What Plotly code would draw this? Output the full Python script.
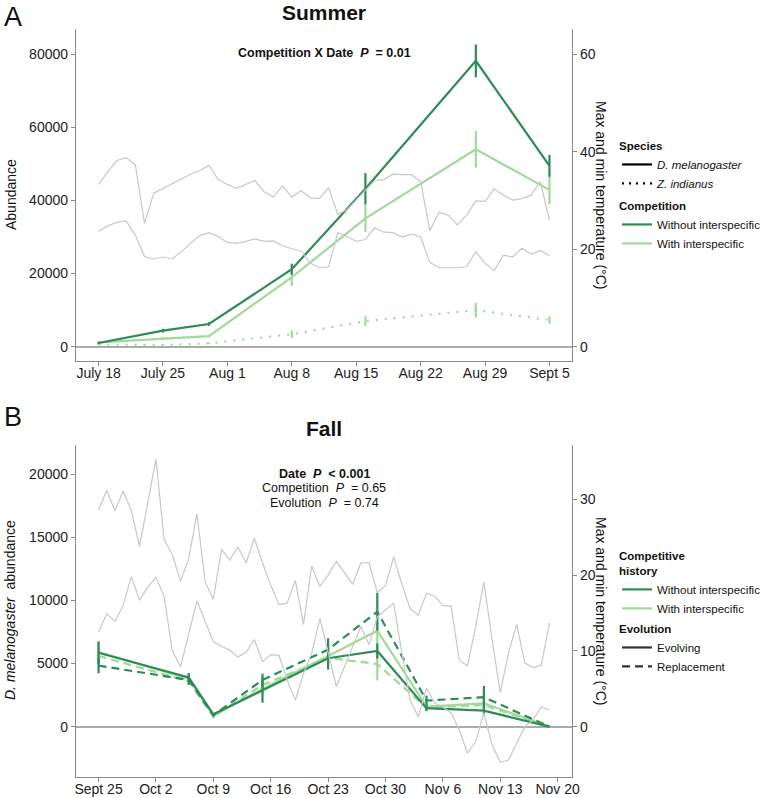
import plotly.graph_objects as go
import pandas as pd

# ---------------- DATA ----------------
# Summer (panel A)
summer_dates = ["2021-07-18", "2021-07-25", "2021-07-30", "2021-08-08", "2021-08-16", "2021-08-28", "2021-09-05"]
summer_without = [1000, 4400, 6200, 21200, 43200, 78200, 49500]
summer_without_err = [300, 500, 500, 1500, 4300, 4500, 3000]
summer_with = [1200, 2300, 2900, 19000, 35100, 54000, 42900]
summer_with_err = [300, 300, 300, 2400, 3700, 5000, 3900]
summer_zind = [600, 450, 900, 3400, 7000, 10000, 7300]
summer_zind_err = [200, 200, 200, 1000, 1300, 2000, 1000]

summer_temp_start = "2021-07-18"
summer_tmax = [33.3, 35.9, 38.2, 38.8, 37.3, 25.3, 31.5, 32.5, 33.5, 34.4,
               35.4, 36.1, 37.2, 34.3, 33.3, 32.5, 33.3, 34.1, 31.8, 30.7,
               33.0, 30.7, 32.0, 30.6, 30.4, 32.6, 27.2, 28.1, 30.1, 32.2,
               34.1, 34.3, 35.4, 35.3, 35.3, 33.9, 23.8, 27.6, 27.0, 25.0,
               27.0, 29.9, 29.8, 32.4, 31.1, 30.1, 30.4, 31.1, 33.9, 26.0]
summer_tmin = [23.6, 24.8, 25.5, 25.8, 22.9, 18.5, 18.0, 18.4, 18.0, 19.5,
               21.2, 22.8, 23.4, 22.6, 21.4, 21.2, 21.6, 22.1, 21.6, 21.7,
               20.7, 20.1, 19.7, 17.1, 16.2, 16.4, 23.4, 22.6, 21.6, 22.0,
               24.4, 23.5, 23.4, 22.5, 23.1, 22.5, 17.3, 16.2, 16.2, 16.2,
               16.4, 19.5, 17.1, 15.6, 18.8, 18.4, 20.2, 19.0, 19.7, 18.7]

summer_tickvals = ["2021-07-18", "2021-07-25", "2021-08-01", "2021-08-08",
                   "2021-08-15", "2021-08-22", "2021-08-29", "2021-09-05"]
summer_ticktext = ["July 18", "July 25", "Aug 1", "Aug 8", "Aug 15", "Aug 22", "Aug 29", "Sept 5"]

# Fall (panel B)
fall_dates = ["2021-09-25", "2021-10-06", "2021-10-09", "2021-10-15", "2021-10-23",
              "2021-10-29", "2021-11-04", "2021-11-11", "2021-11-19"]
fall_without_evolving = [5850, 3900, 980, 2900, 5420, 5990, 1460, 1270, 0]
fall_without_evolving_err = [900, 350, 100, 1000, 900, 600, 200, 300, 0]
fall_without_replacement = [4830, 3700, 900, 3700, 6100, 9100, 2060, 2330, 0]
fall_without_replacement_err = [600, 400, 100, 500, 900, 1500, 400, 900, 0]
fall_with_evolving = [5900, 3800, 850, 3000, 5600, 7600, 1580, 1850, 0]
fall_with_evolving_err = [800, 300, 200, 500, 600, 1300, 300, 400, 0]
fall_with_replacement = [5600, 3600, 800, 3300, 5450, 4960, 1500, 1700, 0]
fall_with_replacement_err = [600, 300, 100, 400, 400, 1300, 300, 300, 0]

fall_temp_start = "2021-09-25"
fall_tmax = [28.6, 31.2, 28.5, 31.1, 28.5, 23.8, 29.5, 35.3, 24.7, 22.7,
             19.2, 22.2, 28.1, 19.1, 16.8, 23.4, 22.0, 23.7, 21.6, 24.9,
             21.6, 18.7, 16.1, 16.3, 19.3, 13.5, 21.2, 18.5, 20.0, 21.8,
             20.3, 18.8, 21.6, 21.6, 17.7, 18.6, 22.4, 18.8, 15.6, 14.7,
             17.6, 17.2, 16.0, 15.9, 8.8, 8.0, 13.2, 19.1, 11.5, 4.5,
             9.7, 13.5, 8.4, 7.8, 8.1, 13.7]
fall_tmin = [12.5, 14.9, 13.9, 16.0, 19.8, 16.7, 18.4, 19.7, 17.2, 10.0,
             7.9, 12.3, 16.6, 13.9, 11.2, 10.6, 10.1, 9.2, 9.8, 11.5,
             8.6, 9.5, 9.4, 6.2, 3.5, 7.0, 9.7, 14.3, 9.6, 5.3,
             7.9, 10.6, 13.2, 10.8, 14.5, 15.4, 16.3, 9.7, 3.5, 1.3,
             5.1, 3.1, 2.6, 1.8, -0.4, -3.5, -2.0, 1.8, -2.4, -4.7,
             -4.4, -2.2, 0.0, 0.9, 2.6, 2.2]

fall_tickvals = ["2021-09-25", "2021-10-02", "2021-10-09", "2021-10-16", "2021-10-23",
                 "2021-10-30", "2021-11-06", "2021-11-13", "2021-11-20"]
fall_ticktext = ["Sept 25", "Oct 2", "Oct 9", "Oct 16", "Oct 23", "Oct 30", "Nov 6", "Nov 13", "Nov 20"]

summer_ab_ticks = [0, 20000, 40000, 60000, 80000]
summer_temp_ticks = [0, 20, 40, 60]
fall_ab_ticks = [0, 5000, 10000, 15000, 20000]
fall_temp_ticks = [0, 10, 20, 30]

# ---------------- STYLE ----------------
W, H = 762, 798
DARK = "#2E8B57"
LIGHT = "#A1D99B"
GREY = "#C8C8C8"
AXIS = "#8A8A8A"
FONT = "Liberation Sans, Arial, sans-serif"

def fx(px):
    return px / W

def fy(py):
    return 1 - py / H

summer_tdates = pd.date_range(summer_temp_start, periods=len(summer_tmax), freq="D")
fall_tdates = pd.date_range(fall_temp_start, periods=len(fall_tmax), freq="D")

# axis ranges (left abundance / right temperature share a fixed ratio)
summer_factor = 80000 / 60
fall_factor = 600
summer_yr = [-3920, 86930]
fall_yr = [-4010, 22300]

fig = go.Figure()

# temperature lines
for t in (summer_tmax, summer_tmin):
    fig.add_trace(go.Scatter(x=summer_tdates, y=t, mode="lines", xaxis="x", yaxis="y2",
                             line=dict(color=GREY, width=1.2), showlegend=False, hoverinfo="skip"))
for t in (fall_tmax, fall_tmin):
    fig.add_trace(go.Scatter(x=fall_tdates, y=t, mode="lines", xaxis="x2", yaxis="y4",
                             line=dict(color=GREY, width=1.2), showlegend=False, hoverinfo="skip"))

def series(x, y, err, color, dash, xa, ya):
    return go.Scatter(x=x, y=y, mode="lines", xaxis=xa, yaxis=ya,
                      line=dict(color=color, width=2.2, dash=dash),
                      error_y=dict(type="data", array=err, color=color, thickness=2.2, width=0),
                      showlegend=False)

DOT = "2px,7px"
DASH = "8px,5px"

# summer series
fig.add_trace(series(summer_dates, summer_zind, summer_zind_err, LIGHT, DOT, "x", "y"))
fig.add_trace(series(summer_dates, summer_with, summer_with_err, LIGHT, "solid", "x", "y"))
fig.add_trace(series(summer_dates, summer_without, summer_without_err, DARK, "solid", "x", "y"))

# fall series
fig.add_trace(series(fall_dates, fall_with_replacement, fall_with_replacement_err, LIGHT, DASH, "x2", "y3"))
fig.add_trace(series(fall_dates, fall_with_evolving, fall_with_evolving_err, LIGHT, "solid", "x2", "y3"))
fig.add_trace(series(fall_dates, fall_without_evolving, fall_without_evolving_err, DARK, "solid", "x2", "y3"))
fig.add_trace(series(fall_dates, fall_without_replacement, fall_without_replacement_err, DARK, DASH, "x2", "y3"))

# legend entries
def leg(name, color, dash, legend):
    return go.Scatter(x=[None], y=[None], mode="lines", name=name, legend=legend,
                      line=dict(color=color, width=2.2, dash=dash), xaxis="x", yaxis="y")

fig.add_trace(leg("<i>D. melanogaster</i>", "black", "solid", "legend"))
fig.add_trace(leg("<i>Z. indianus</i>", "black", "2px,5px", "legend"))
fig.add_trace(leg("Without interspecific", DARK, "solid", "legend2"))
fig.add_trace(leg("With interspecific", LIGHT, "solid", "legend2"))
fig.add_trace(leg("Without interspecific", DARK, "solid", "legend3"))
fig.add_trace(leg("With interspecific", LIGHT, "solid", "legend3"))
fig.add_trace(leg("Evolving", "#333333", "solid", "legend4"))
fig.add_trace(leg("Replacement", "#333333", DASH, "legend4"))

def xrange(start, end, pad):
    s = pd.Timestamp(start) - pd.Timedelta(days=pad)
    e = pd.Timestamp(end) + pd.Timedelta(days=pad)
    return [s, e]

tickfont = dict(family=FONT, size=14, color="#222222")
common_axis = dict(showline=True, linecolor=AXIS, linewidth=1.3, ticks="outside", ticklen=4,
                   tickcolor=AXIS, tickwidth=1.3, showgrid=False, tickfont=tickfont)

xd = [fx(76), fx(572)]
legfont = dict(family=FONT, size=11.5, color="#111111")
legtitle = dict(family=FONT, size=11.5, color="#111111")

def legend_cfg(title, x, y):
    return dict(title=dict(text="<b>" + title + "</b>", font=legtitle), x=x, y=y,
                xanchor="left", yanchor="top", font=legfont, bgcolor="rgba(0,0,0,0)",
                tracegroupgap=0, itemwidth=30)

fig.update_layout(
    width=W, height=H,
    margin=dict(l=0, r=0, t=0, b=0, autoexpand=False),
    plot_bgcolor="white", paper_bgcolor="white",
    font=dict(family=FONT, color="#111111"),
    xaxis=dict(domain=xd, anchor="y", type="date",
               range=xrange("2021-07-18", "2021-09-05", 2.45), ticklabelstandoff=-5,
               tickvals=summer_tickvals, ticktext=summer_ticktext, zeroline=False, **common_axis),
    yaxis=dict(domain=[fy(361), fy(29)], anchor="x", range=summer_yr,
               tickvals=summer_ab_ticks, ticktext=[str(v) for v in summer_ab_ticks],
               zeroline=True, zerolinecolor="#ABABAB", zerolinewidth=1.5, **common_axis),
    yaxis2=dict(overlaying="y", anchor="x", side="right",
                range=[summer_yr[0] / summer_factor, summer_yr[1] / summer_factor],
                tickvals=summer_temp_ticks, zeroline=False, **common_axis),
    xaxis2=dict(domain=xd, anchor="y3", type="date",
                range=xrange("2021-09-25", "2021-11-19", 2.75), ticklabelstandoff=-5,
                tickvals=fall_tickvals, ticktext=fall_ticktext, zeroline=False, **common_axis),
    yaxis3=dict(domain=[fy(777.3), fy(445)], anchor="x2", range=fall_yr,
                tickvals=fall_ab_ticks, ticktext=[str(v) for v in fall_ab_ticks],
                zeroline=True, zerolinecolor="#ABABAB", zerolinewidth=1.5, **common_axis),
    yaxis4=dict(overlaying="y3", anchor="x2", side="right",
                range=[fall_yr[0] / fall_factor, fall_yr[1] / fall_factor],
                tickvals=fall_temp_ticks, zeroline=False, **common_axis),
    legend=legend_cfg("Species", fx(617), fy(135)),
    legend2=legend_cfg("Competition", fx(617), fy(195)),
    legend3=legend_cfg("Competitive<br>history", fx(617), fy(545)),
    legend4=legend_cfg("Evolution", fx(617), fy(618)),
    showlegend=True,
)

ann = []
def text(t, x, y, size, xanchor="center", angle=0, yanchor="middle"):
    ann.append(dict(text=t, x=fx(x), y=fy(y), xref="paper", yref="paper", showarrow=False,
                    xanchor=xanchor, yanchor=yanchor, textangle=angle,
                    font=dict(family=FONT, size=size, color="#111111")))

NB = "\u00a0"
text("A", 2, 17, 27, xanchor="left")
text("B", 2, 417, 27, xanchor="left")
text("<b>Summer</b>", 324, 13, 21)
text("<b>Fall</b>", 324, 428, 21)
text("<b>Competition X Date" + NB + NB + "<i>P</i>" + NB + NB + "= 0.01</b>", 324, 53, 12.5)
text("<b>Date" + NB + NB + "<i>P</i>" + NB + NB + "< 0.001</b>", 324, 474, 12.5)
text("Competition" + NB + NB + "<i>P</i>" + NB + NB + "= 0.65", 324, 488.5, 12.5)
text("Evolution" + NB + NB + "<i>P</i>" + NB + NB + "= 0.74", 324, 503, 12.5)
text("Abundance", 11, 195, 14, angle=-90)
text("<i>D. melanogaster</i>" + NB + NB + "abundance", 10, 610, 14, angle=-90)
text("Max and min temperature (°C)", 601, 195, 14, angle=90)
text("Max and min temperature (°C)", 601, 611, 14, angle=90)
fig.update_layout(annotations=ann)

fig.write_html("out.html", config={"displayModeBar": False},
               post_script="document.body.style.margin='0px';document.body.style.padding='0px';")
